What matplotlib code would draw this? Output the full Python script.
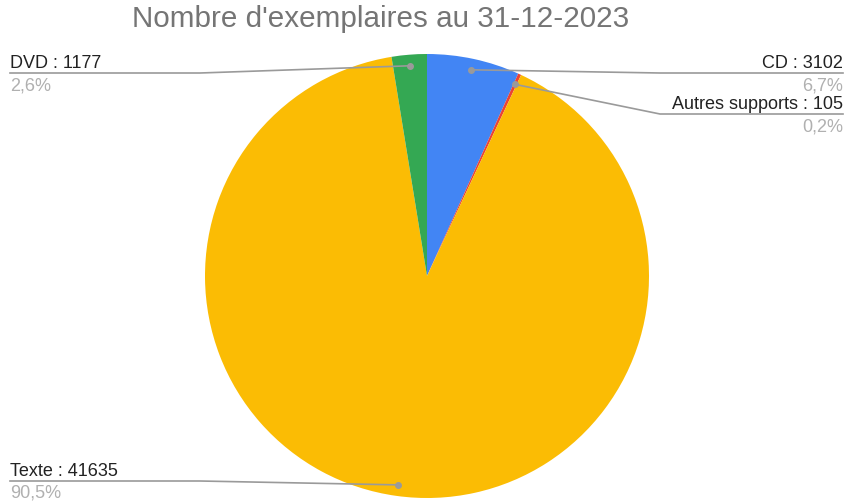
import numpy as np
import matplotlib.pyplot as plt

plt.rcParams['font.family'] = ['Liberation Sans', 'DejaVu Sans']

labels = ['CD', 'Autres supports', 'Texte', 'DVD']
values = [3102, 105, 41635, 1177]
colors = ['#4285F4', '#EA4335', '#FBBC04', '#34A853']
pct_labels = ['6,7%', '0,2%', '90,5%', '2,6%']

# layout (pixels, y from the bottom): elbow of leader line, text anchor
elbows = [(660, 428), (660, 387), (200, 20), (200, 428)]
ends = [(843, 428), (843, 387), (10, 20), (10, 428)]

W, H = 845, 501
fig = plt.figure(figsize=(W / 100, H / 100), dpi=100)
ax = fig.add_axes([0, 0, 1, 1])

cx, cy, R = 427, 225, 222
wedges, _ = ax.pie(values, colors=colors, startangle=90, counterclock=False,
                   center=(cx, cy), radius=R, frame=True,
                   wedgeprops=dict(linewidth=0))
ax.set_xlim(0, W)
ax.set_ylim(0, H)
ax.set_aspect('equal')
ax.axis('off')

grey = '#9A9A9A'
for i, w in enumerate(wedges):
    mid = np.deg2rad((w.theta1 + w.theta2) / 2)
    px = cx + 0.95 * R * np.cos(mid)
    py = cy + 0.95 * R * np.sin(mid)
    ex, ey = elbows[i]
    tx, ty = ends[i]
    ax.plot([px, ex, tx], [py, ey, ty], color=grey, lw=1.2, zorder=5)
    ax.plot(px, py, 'o', color=grey, ms=4, zorder=6)
    ha = 'right' if tx > cx else 'left'
    ax.text(tx, ty + 5, f'{labels[i]} : {values[i]}', ha=ha, va='baseline',
            fontsize=13, color='#222222')
    ax.text(tx, ty - 17, pct_labels[i], ha=ha, va='baseline',
            fontsize=13, color='#B0B0B0')

fig.text(381 / W, 1 - 19 / H, "Nombre d'exemplaires au 31-12-2023",
         ha='center', va='center', fontsize=21.3, color='#757575')

fig.savefig('out.png', dpi=100)
